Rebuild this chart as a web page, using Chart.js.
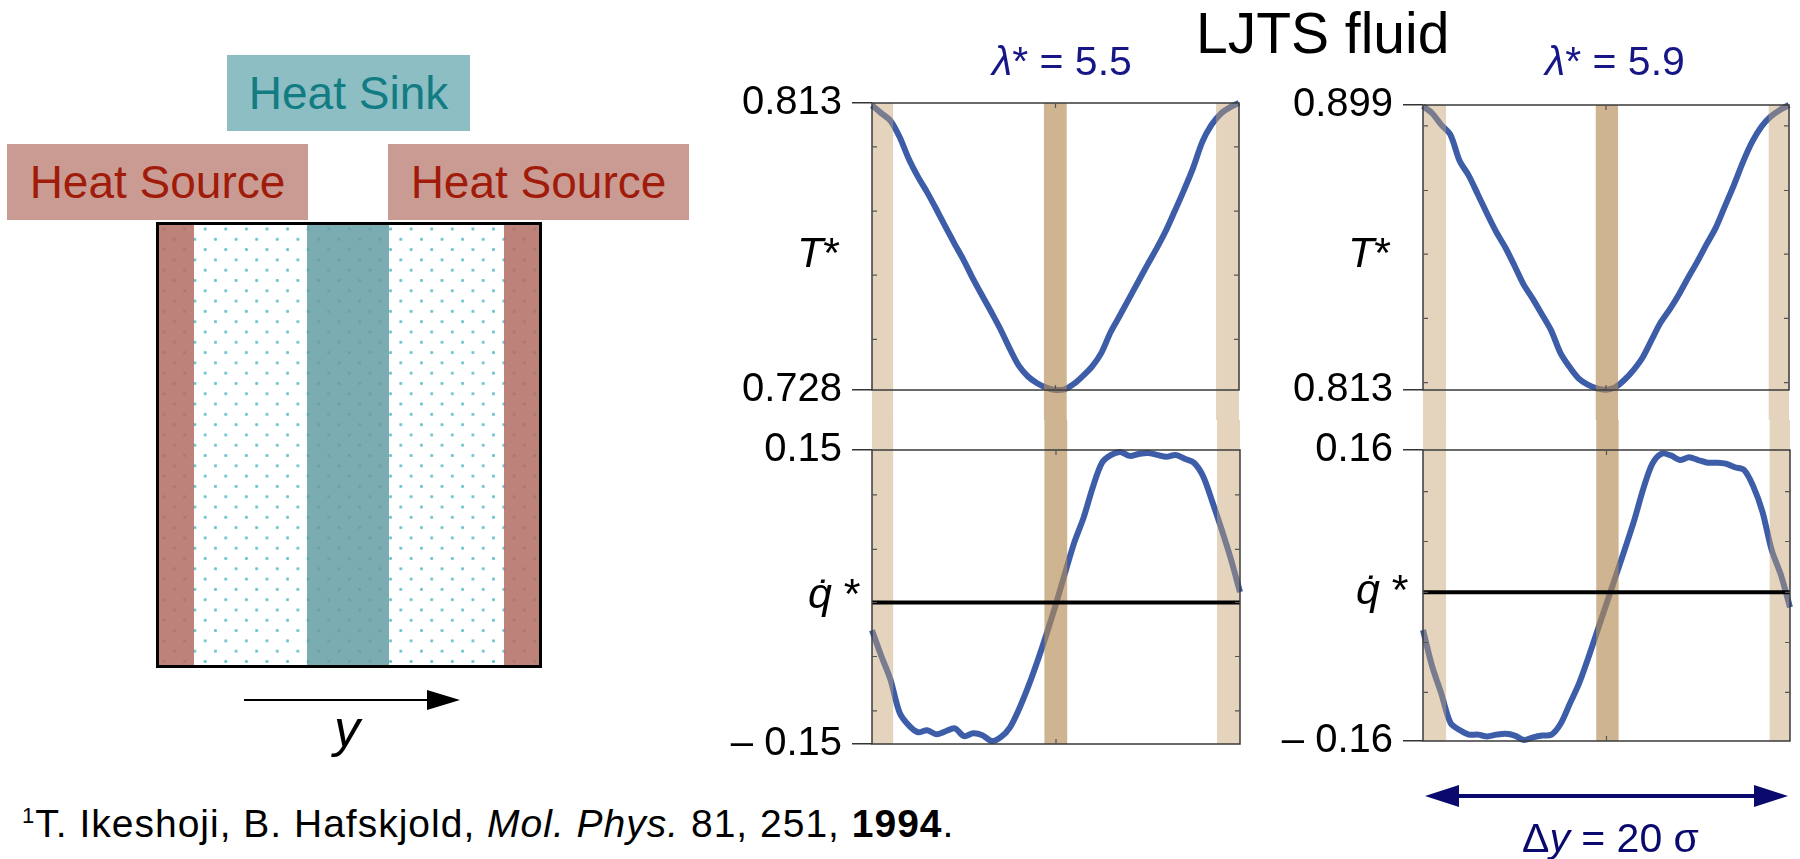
<!DOCTYPE html>
<html>
<head>
<meta charset="utf-8">
<title>LJTS fluid - temperature and heat flux profiles</title>
<script src="https://cdn.jsdelivr.net/npm/chart.js@4.4.1/dist/chart.umd.min.js"></script>
<style>
  body { margin: 0; width: 1800px; height: 859px; position: relative; overflow: hidden; background: #fff;
         font-family: 'Liberation Sans', Arial, sans-serif; }
  .txt { position: absolute; white-space: nowrap; line-height: 1; }
  canvas { position: absolute; }

  /* schematic on the left */
  .tag { position: absolute; height: 76px; display: flex; align-items: center; justify-content: center;
         font-size: 46px; line-height: 1; }
  .sink { left: 227px; top: 55px; width: 243px; background: #8dbec3; color: #127c83; }
  .source { top: 144px; width: 301px; background: #c99b93; color: #a11b0b; }
  .cell { position: absolute; left: 156px; top: 222px; width: 386px; height: 446px; box-sizing: border-box;
          border: 3px solid #000; background-color: #fff;
          background-image: radial-gradient(circle, #6cc4ce 1.2px, rgba(255,255,255,0) 1.9px),
                            radial-gradient(circle, #6cc4ce 1.2px, rgba(255,255,255,0) 1.9px);
          background-size: 20.6px 20.6px;
          background-position: 5px 4px, 15.3px 14.3px; }
  .strip { position: absolute; top: 0; bottom: 0; }
  .hot { background: rgba(178, 108, 98, 0.85); width: 35px; }
  .cold { background: rgba(99, 157, 163, 0.85); left: 148px; width: 82px; }
</style>
</head>
<body>

<!-- schematic -->
<div class="tag sink">Heat Sink</div>
<div class="tag source" style="left:7px">Heat Source</div>
<div class="tag source" style="left:388px">Heat Source</div>
<div class="cell">
  <div class="strip hot" style="left:0"></div>
  <div class="strip cold"></div>
  <div class="strip hot" style="left:345px"></div>
</div>
<svg style="position:absolute;left:0;top:0" width="520" height="800">
  <line x1="244" y1="700" x2="430" y2="700" stroke="#000" stroke-width="2"/>
  <polygon points="427,690 460,700 427,710" fill="#000"/>
</svg>
<div class="txt" style="left:334px;top:702px;font-size:52px;font-style:italic">y</div>

<!-- plots -->
<canvas id="tLeft" width="570" height="360" style="left:690px;top:60px"></canvas>
<canvas id="qLeft" width="570" height="360" style="left:690px;top:420px"></canvas>
<canvas id="tRight" width="535" height="360" style="left:1265px;top:60px"></canvas>
<canvas id="qRight" width="535" height="439" style="left:1265px;top:420px"></canvas>

<div class="txt" style="left:1196px;top:5px;font-size:57px">LJTS fluid</div>
<div class="txt" style="left:992px;top:41px;font-size:41px;color:#161686"><i>λ</i>* = 5.5</div>
<div class="txt" style="left:1545px;top:41px;font-size:41px;color:#161686"><i>λ</i>* = 5.9</div>
<div class="txt" style="left:797px;top:231px;font-size:43px"><i>T</i>*</div>
<div class="txt" style="left:1348px;top:231px;font-size:43px"><i>T</i>*</div>
<div class="txt" style="left:808px;top:572px;font-size:43px"><i>q̇</i> *</div>
<div class="txt" style="left:1356px;top:568px;font-size:43px"><i>q̇</i> *</div>
<div class="txt" style="left:1522px;top:818px;font-size:41px;color:#0a0a6e">Δ<i>y</i> = 20 σ</div>
<div class="txt" style="left:22px;top:804px;font-size:39px;letter-spacing:1px"><sup style="font-size:22px">1</sup>T. Ikeshoji, B. Hafskjold, <i>Mol. Phys.</i> 81, 251, <b>1994</b>.</div>

<script>
// position along the box (in sigma)
const positions = [0, 0.5, 1, 1.5, 2, 2.5, 3, 3.5, 4, 4.5, 5, 5.5, 6, 6.5, 7, 7.5, 8, 8.5, 9, 9.5, 10,
                   10.5, 11, 11.5, 12, 12.5, 13, 13.5, 14, 14.5, 15, 15.5, 16, 16.5, 17, 17.5, 18, 18.5, 19, 19.5, 20];

// temperature T*, lambda* = 5.5 and 5.9
const temp55 = [0.8123, 0.8100, 0.8078, 0.8030, 0.7965, 0.7912, 0.7866, 0.7816, 0.7764, 0.7713,
                0.7664, 0.7610, 0.7560, 0.7511, 0.7460, 0.7403, 0.7352, 0.7320, 0.7300, 0.7287,
                0.7280, 0.7282, 0.7298, 0.7322, 0.7350, 0.7390, 0.7451, 0.7500, 0.7550, 0.7600,
                0.7650, 0.7698, 0.7750, 0.7810, 0.7872, 0.7938, 0.8015, 0.8065, 0.8098, 0.8117, 0.8130];
const temp59 = [0.8987, 0.8965, 0.8930, 0.8900, 0.8822, 0.8777, 0.8720, 0.8662, 0.8607, 0.8560,
                0.8505, 0.8448, 0.8405, 0.8358, 0.8310, 0.8243, 0.8200, 0.8165, 0.8146, 0.8135,
                0.8131, 0.8138, 0.8160, 0.8190, 0.8228, 0.8282, 0.8335, 0.8375, 0.8420, 0.8470,
                0.8518, 0.8570, 0.8620, 0.8685, 0.8750, 0.8820, 0.8880, 0.8925, 0.8955, 0.8975, 0.8990];

// heat flux q*, lambda* = 5.5 and 5.9
const flux55 = [-0.034, -0.060, -0.084, -0.118, -0.131, -0.138, -0.136, -0.140, -0.137, -0.134,
                -0.142, -0.139, -0.141, -0.147, -0.143, -0.133, -0.114, -0.091, -0.065, -0.037,
                -0.007, 0.025, 0.056, 0.081, 0.112, 0.137, 0.145, 0.148, 0.144, 0.146,
                0.147, 0.145, 0.143, 0.145, 0.141, 0.137, 0.123, 0.097, 0.069, 0.039, 0.005];
const flux59 = [-0.038, -0.078, -0.108, -0.140, -0.148, -0.153, -0.153, -0.155, -0.153, -0.152,
                -0.154, -0.159, -0.156, -0.154, -0.153, -0.141, -0.119, -0.097, -0.069, -0.039,
                -0.009, 0.021, 0.051, 0.082, 0.117, 0.145, 0.156, 0.154, 0.149, 0.152,
                0.149, 0.146, 0.146, 0.145, 0.141, 0.138, 0.120, 0.092, 0.050, 0.023, -0.013];

// axis ranges and their labels
const tempRange55 = [0.728, 0.813], tempLabels55 = ['0.728', '0.813'];
const tempRange59 = [0.813, 0.899], tempLabels59 = ['0.813', '0.899'];
const fluxRange55 = [-0.15, 0.15], fluxLabels55 = ['\u2013 0.15', '0.15'];
const fluxRange59 = [-0.16, 0.16], fluxLabels59 = ['\u2013 0.16', '0.16'];

// unlabeled inner ticks
const tempTicks55 = [0.743, 0.762, 0.781, 0.800];
const tempTicks59 = [0.8152, 0.8346, 0.8540, 0.8732, 0.8927];
const fluxTicks55 = [-0.1162, -0.0607, -0.0056, 0.0485, 0.1043];
const fluxTicks59 = [-0.1066, -0.0517, 0.0035, 0.0594, 0.1143];
const xTicks = [10];

// mean heat flux level (black line)
const fluxLevel55 = -0.0056;
const fluxLevel59 = 0.0035;

// thermostat regions: source / sink / source
const regions55 = [[0, 1.15], [9.37, 10.61], [18.75, 20]];
const regions59 = [[0, 1.26], [9.44, 10.66], [18.89, 20]];

const BOX = [0, 20];
const FONT = "'Liberation Sans', Arial, sans-serif";
const LINE_BLUE = '#3d5da8';
const REGION_COLORS = ['rgba(196,160,110,0.45)', 'rgba(180,140,85,0.65)', 'rgba(196,160,110,0.45)'];

function decorations(cfg) {
    return {
        id: 'decor',
        afterDatasetDraw(chart, args) {
            if (args.index !== 0) return;
            const { ctx, chartArea: a } = chart;
            const x = chart.scales.x;
            const top = cfg.extend === 'down' ? a.top : 0;
            const bottom = cfg.extend === 'down' ? chart.height : a.bottom;
            ctx.save();
            cfg.regions.forEach((r, i) => {
                const x0 = x.getPixelForValue(r[0]);
                const x1 = x.getPixelForValue(r[1]);
                ctx.fillStyle = REGION_COLORS[i];
                ctx.fillRect(x0, top, x1 - x0, bottom - top);
            });
            ctx.restore();
        },
        afterDatasetsDraw(chart) {
            const { ctx, chartArea: a } = chart;
            const x = chart.scales.x, y = chart.scales.y;
            ctx.save();
            ctx.strokeStyle = '#3a3a3a';
            ctx.lineWidth = 1.5;
            ctx.strokeRect(a.left, a.top, a.right - a.left, a.bottom - a.top);

            // small inward ticks
            ctx.strokeStyle = '#555';
            ctx.lineWidth = 1.2;
            ctx.beginPath();
            cfg.minor.forEach(v => {
                const py = y.getPixelForValue(v);
                ctx.moveTo(a.left, py); ctx.lineTo(a.left + 5, py);
                ctx.moveTo(a.right - 5, py); ctx.lineTo(a.right, py);
            });
            xTicks.forEach(v => {
                const px = x.getPixelForValue(v);
                ctx.moveTo(px, a.top); ctx.lineTo(px, a.top + 5);
                ctx.moveTo(px, a.bottom - 5); ctx.lineTo(px, a.bottom);
            });
            ctx.stroke();

            // double arrow spanning the box length
            if (cfg.arrowY) {
                const x0 = x.getPixelForValue(BOX[0]) + 2;
                const x1 = x.getPixelForValue(BOX[1]) - 2;
                const ay = cfg.arrowY;
                ctx.strokeStyle = '#0a0a6e';
                ctx.fillStyle = '#0a0a6e';
                ctx.lineWidth = 4;
                ctx.beginPath();
                ctx.moveTo(x0 + 30, ay); ctx.lineTo(x1 - 30, ay);
                ctx.stroke();
                ctx.beginPath();
                ctx.moveTo(x0, ay); ctx.lineTo(x0 + 34, ay - 11); ctx.lineTo(x0 + 34, ay + 11); ctx.closePath();
                ctx.moveTo(x1, ay); ctx.lineTo(x1 - 34, ay - 11); ctx.lineTo(x1 - 34, ay + 11); ctx.closePath();
                ctx.fill();
            }
            ctx.restore();
        }
    };
}

function makePlot(id, cfg) {
    const datasets = [{
        data: positions.map((p, i) => ({ x: p, y: cfg.values[i] })),
        borderColor: LINE_BLUE,
        borderWidth: 6,
        pointRadius: 0,
        tension: 0.3,
        clip: false,
        order: 1
    }];
    if (cfg.level !== undefined) {
        datasets.push({
            data: BOX.map(p => ({ x: p, y: cfg.level })),
            borderColor: '#000',
            borderWidth: 4,
            pointRadius: 0,
            order: 0
        });
    }
    return new Chart(document.getElementById(id), {
        type: 'line',
        data: { datasets },
        options: {
            responsive: false,
            animation: false,
            events: [],
            layout: { padding: cfg.pad },
            plugins: { legend: { display: false }, tooltip: { enabled: false } },
            scales: {
                x: { type: 'linear', min: BOX[0], max: BOX[1], display: false },
                y: {
                    min: cfg.range[0],
                    max: cfg.range[1],
                    afterBuildTicks: s => { s.ticks = cfg.range.map(v => ({ value: v })); },
                    afterFit: s => { s.width = cfg.axisW; },
                    ticks: {
                        padding: 10,
                        color: '#000',
                        font: { family: FONT, size: 40, lineHeight: 1 },
                        callback: (v, i) => cfg.labels[i]
                    },
                    grid: { drawOnChartArea: false, tickLength: 20, color: '#333', lineWidth: 1.5 },
                    border: { display: false }
                }
            }
        },
        plugins: [decorations(cfg)]
    });
}

makePlot('tLeft', {
    values: temp55, range: tempRange55, labels: tempLabels55, minor: tempTicks55,
    regions: regions55, extend: 'down', axisW: 182,
    pad: { top: 43, right: 21, bottom: 21, left: 0 }
});
makePlot('qLeft', {
    values: flux55, range: fluxRange55, labels: fluxLabels55, minor: fluxTicks55, level: fluxLevel55,
    regions: regions55, extend: 'up', axisW: 182,
    pad: { top: 28, right: 20, bottom: 36, left: 0 }
});
makePlot('tRight', {
    values: temp59, range: tempRange59, labels: tempLabels59, minor: tempTicks59,
    regions: regions59, extend: 'down', axisW: 158,
    pad: { top: 45, right: 11, bottom: 22, left: 0 }
});
makePlot('qRight', {
    values: flux59, range: fluxRange59, labels: fluxLabels59, minor: fluxTicks59, level: fluxLevel59,
    regions: regions59, extend: 'up', axisW: 158, arrowY: 376,
    pad: { top: 29, right: 10, bottom: 118, left: 0 }
});
</script>
</body>
</html>
